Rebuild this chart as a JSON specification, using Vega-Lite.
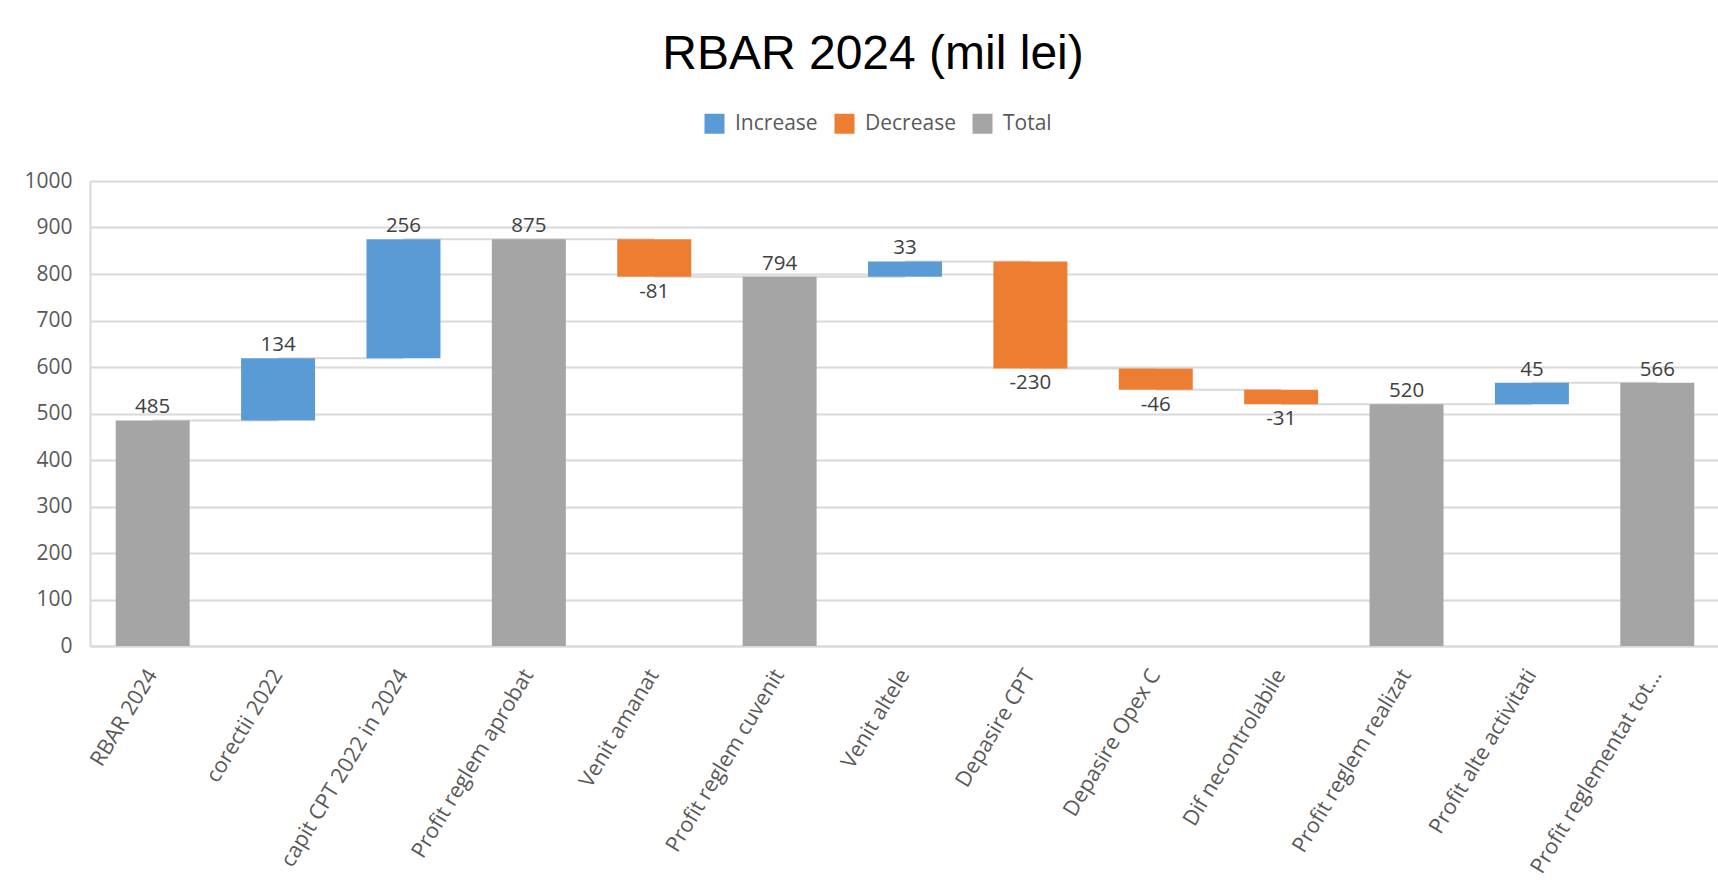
{
  "$schema": "https://vega.github.io/schema/vega-lite/v6.json",
  "width": 1630,
  "height": 465,
  "autosize": {"type": "none"},
  "padding": {"left": 90, "top": 181, "right": -2, "bottom": 249},
  "background": "white",
  "title": {
    "text": "RBAR 2024 (mil lei)",
    "font": "Liberation Sans",
    "fontSize": 48,
    "fontWeight": "normal",
    "color": "#000000",
    "anchor": "middle",
    "frame": "group",
    "dx": -32,
    "offset": 34
  },
  "data": {
    "values": [
      {"cat": "RBAR 2024", "next": "corectii 2022", "type": "Total", "start": 0, "end": 485, "label": "485"},
      {"cat": "corectii 2022", "next": "capit CPT 2022 in 2024", "type": "Increase", "start": 485, "end": 619, "label": "134"},
      {"cat": "capit CPT 2022 in 2024", "next": "Profit reglem aprobat", "type": "Increase", "start": 619, "end": 875, "label": "256"},
      {"cat": "Profit reglem aprobat", "next": "Venit amanat", "type": "Total", "start": 0, "end": 875, "label": "875"},
      {"cat": "Venit amanat", "next": "Profit reglem cuvenit", "type": "Decrease", "start": 875, "end": 794, "label": "-81"},
      {"cat": "Profit reglem cuvenit", "next": "Venit altele", "type": "Total", "start": 0, "end": 794, "label": "794"},
      {"cat": "Venit altele", "next": "Depasire CPT", "type": "Increase", "start": 794, "end": 827, "label": "33"},
      {"cat": "Depasire CPT", "next": "Depasire Opex C", "type": "Decrease", "start": 827, "end": 597, "label": "-230"},
      {"cat": "Depasire Opex C", "next": "Dif necontrolabile", "type": "Decrease", "start": 597, "end": 551, "label": "-46"},
      {"cat": "Dif necontrolabile", "next": "Profit reglem realizat", "type": "Decrease", "start": 551, "end": 520, "label": "-31"},
      {"cat": "Profit reglem realizat", "next": "Profit alte activitati", "type": "Total", "start": 0, "end": 520, "label": "520"},
      {"cat": "Profit alte activitati", "next": "Profit reglementat tot...", "type": "Increase", "start": 520, "end": 566, "label": "45"},
      {"cat": "Profit reglementat tot...", "next": null, "type": "Total", "start": 0, "end": 566, "label": "566"}
    ]
  },
  "encoding": {
    "x": {
      "field": "cat",
      "type": "nominal",
      "sort": null,
      "title": null,
      "scale": {"paddingInner": 0.41, "paddingOuter": 0.205},
      "axis": {
        "labelAngle": -59,
        "labelFont": "Open Sans",
        "labelFontSize": 21.5,
        "labelColor": "#595959",
        "labelPadding": 25,
        "labelLimit": 400,
        "ticks": false,
        "domain": true,
        "domainColor": "#d9d9d9",
        "domainWidth": 2,
        "grid": false
      }
    }
  },
  "layer": [
    {
      "mark": {"type": "rule", "color": "#d9d9d9", "strokeWidth": 2},
      "transform": [{"filter": "datum.next != null"}],
      "encoding": {
        "x": {"field": "cat", "type": "nominal", "sort": null, "bandPosition": 0.5},
        "x2": {"field": "next", "bandPosition": 0.5},
        "y": {"field": "end", "type": "quantitative"}
      }
    },
    {
      "mark": {"type": "bar"},
      "encoding": {
        "y": {
          "field": "start",
          "type": "quantitative",
          "title": null,
          "scale": {"domain": [0, 1000], "nice": false},
          "axis": {
            "values": [0, 100, 200, 300, 400, 500, 600, 700, 800, 900, 1000],
            "format": "d",
            "labelFont": "Open Sans",
            "labelFontSize": 21,
            "labelColor": "#595959",
            "labelPadding": 18,
            "ticks": false,
            "domain": true,
            "domainColor": "#d9d9d9",
            "domainWidth": 2,
            "grid": true,
            "gridColor": "#d9d9d9",
            "gridWidth": 2
          }
        },
        "y2": {"field": "end"},
        "color": {
          "field": "type",
          "type": "nominal",
          "scale": {
            "domain": ["Increase", "Decrease", "Total"],
            "range": ["#5b9bd5", "#ed7d31", "#a5a5a5"]
          },
          "legend": {
            "title": null,
            "orient": "none",
            "direction": "horizontal",
            "legendX": 614,
            "legendY": -68,
            "symbolType": "square",
            "symbolSize": 400,
            "symbolStrokeWidth": 0,
            "labelFont": "Open Sans",
            "labelFontSize": 21,
            "labelColor": "#595959",
            "labelOffset": 10,
            "columnPadding": 16,
            "padding": 0
          }
        }
      }
    },
    {
      "mark": {"type": "text", "baseline": "bottom", "dy": -3, "font": "Open Sans", "fontSize": 20.5, "color": "#404040"},
      "transform": [{"filter": "datum.type != 'Decrease'"}],
      "encoding": {
        "y": {"field": "end", "type": "quantitative"},
        "text": {"field": "label"}
      }
    },
    {
      "mark": {"type": "text", "baseline": "top", "dy": 5, "font": "Open Sans", "fontSize": 20.5, "color": "#404040"},
      "transform": [{"filter": "datum.type == 'Decrease'"}],
      "encoding": {
        "y": {"field": "end", "type": "quantitative"},
        "text": {"field": "label"}
      }
    }
  ],
  "config": {"view": {"stroke": null}}
}
